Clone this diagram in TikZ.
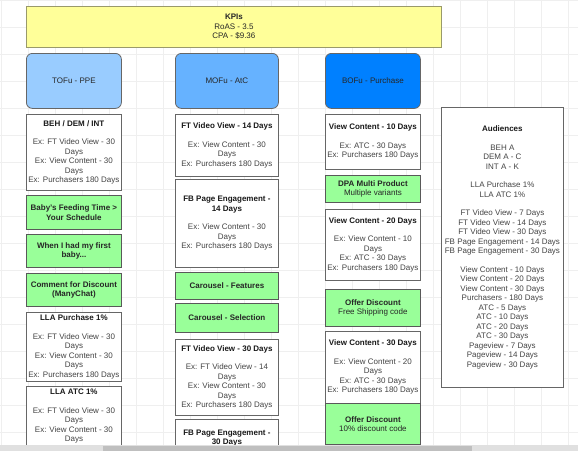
\documentclass[tikz,border=0pt]{standalone}
\usepackage{fontspec}
\setmainfont{Liberation Sans}
\usepackage{tikz}
\definecolor{kpiyellow}{HTML}{FFFF99}
\definecolor{kpiedge}{HTML}{9A9A6A}
\definecolor{tofublue}{HTML}{99CCFF}
\definecolor{mofublue}{HTML}{66B2FF}
\definecolor{bofublue}{HTML}{0080FF}
\definecolor{adgreen}{HTML}{99FF99}
\definecolor{boxgray}{HTML}{666666}
\definecolor{bodygray}{HTML}{444444}
\definecolor{gridgray}{HTML}{EFEFEF}
\newcommand{\boxtitle}[1]{\textcolor{black!90}{\textbf{#1}}}

\begin{document}
\begin{tikzpicture}
		[x=1pt,y=-1pt,
		every node/.style={font=\fontsize{8}{9.5}\selectfont,align=center,inner sep=1pt,line width=0.8pt},
		kpi/.style={draw=kpiedge,fill=kpiyellow,text=black!85,anchor=north west},
		phase/.style={draw=boxgray,rounded corners=6pt,text=black!85,anchor=north west},
		audience/.style={draw=boxgray,fill=white,text=bodygray,anchor=north west},
		ad/.style={draw=black!65,fill=adgreen,text=black!85,anchor=north west,font=\fontsize{8}{9.5}\selectfont\bfseries},
		gridline/.style={draw=gridgray,line width=0.6pt}]
		\useasboundingbox (0,0) rectangle (578,451);
		\fill[white] (0,0) rectangle (578,451);
		\foreach \gx in {1,28,...,578} \draw[gridline] (\gx,0) -- (\gx,451);
		\foreach \gy in {0,27,...,451} \draw[gridline] (0,\gy) -- (578,\gy);
		
		\begin{scope}
		\clip (0,0) rectangle (578,445);
		
		\node[kpi,minimum width=415,minimum height=41] (kpis) at (26,6) {\textbf{KPIs}\\RoAS - 3.5\\CPA - \$9.36};
		
		\node[phase,fill=tofublue,minimum width=95,minimum height=55] (tofu) at (26,53) {TOFu - PPE};
		\node[phase,fill=mofublue,minimum width=103,minimum height=55] (mofu) at (175,53) {MOFu - AtC};
		\node[phase,fill=bofublue,minimum width=95,minimum height=55] (bofu) at (325,53) {BOFu - Purchase};
		
		% TOFu column
		\node[audience,minimum width=95,minimum height=76] (beh) at (26,114) {\boxtitle{BEH / DEM / INT}\\[9pt]Ex: FT Video View - 30\\Days\\Ex: View Content - 30\\Days\\Ex: Purchasers 180 Days};
		\node[ad,minimum width=95,minimum height=34] (feeding) at (26,195) {Baby's Feeding Time >\\Your Schedule};
		\node[ad,minimum width=95,minimum height=33] (firstbaby) at (26,234) {When I had my first\\baby...};
		\node[ad,minimum width=95,minimum height=33] (manychat) at (26,273) {Comment for Discount\\(ManyChat)};
		\node[audience,minimum width=95,minimum height=69] (llapurchase) at (26,312) {\boxtitle{LLA Purchase 1\%}\\[9pt]Ex: FT Video View - 30\\Days\\Ex: View Content - 30\\Days\\Ex: Purchasers 180 Days};
		\node[audience,minimum width=95,minimum height=69] (llaatc) at (26,386) {\boxtitle{LLA ATC 1\%}\\[9pt]Ex: FT Video View - 30\\Days\\Ex: View Content - 30\\Days\\\rule{0pt}{8pt}};
		
		% MOFu column
		\node[audience,minimum width=103,minimum height=62] (ftview14) at (175,114) {\boxtitle{FT Video View - 14 Days}\\[9pt]Ex: View Content - 30\\Days\\Ex: Purchasers 180 Days};
		\node[audience,minimum width=103,minimum height=88] (fbpage14) at (175,179) {\boxtitle{FB Page Engagement -}\\\boxtitle{14 Days}\\[9pt]Ex: View Content - 30\\Days\\Ex: Purchasers 180 Days};
		\node[ad,minimum width=103,minimum height=27] (carfeatures) at (175,272) {Carousel - Features};
		\node[ad,minimum width=103,minimum height=29] (carselection) at (175,303) {Carousel - Selection};
		\node[audience,minimum width=103,minimum height=76] (ftview30) at (175,339) {\boxtitle{FT Video View - 30 Days}\\[9pt]Ex: FT Video View - 14\\Days\\Ex: View Content - 30\\Days\\Ex: Purchasers 180 Days};
		\node[audience,minimum width=103,minimum height=74] (fbpage30) at (175,419) {\boxtitle{FB Page Engagement -}\\\boxtitle{30 Days}\\\rule{0pt}{36pt}};
		
		% BOFu column
		\node[audience,minimum width=95,minimum height=55] (view10) at (325,114) {\boxtitle{View Content - 10 Days}\\[9pt]Ex: ATC - 30 Days\\Ex: Purchasers 180 Days};
		\node[ad,minimum width=95,minimum height=27] (dpa) at (325,175) {DPA Multi Product\\\mdseries Multiple variants};
		\node[audience,minimum width=95,minimum height=71] (view20) at (325,209) {\boxtitle{View Content - 20 Days}\\[9pt]Ex: View Content - 10\\Days\\Ex: ATC - 30 Days\\Ex: Purchasers 180 Days};
		\node[ad,minimum width=95,minimum height=37] (shipping) at (325,289) {Offer Discount\\\mdseries Free Shipping code};
		\node[audience,minimum width=95,minimum height=72] (view30) at (325,331) {\boxtitle{View Content - 30 Days}\\[9pt]Ex: View Content - 20\\Days\\Ex: ATC - 30 Days\\Ex: Purchasers 180 Days};
		\node[ad,minimum width=95,minimum height=41] (discount) at (325,403) {Offer Discount\\\mdseries 10\% discount code};
		
		% audience list
		\node[audience,minimum width=122,minimum height=280] (audiences) at (441,107) {\boxtitle{Audiences}\\[9pt]BEH A\\DEM A - C\\INT A - K\\[9pt]LLA Purchase 1\%\\LLA ATC 1\%\\[9pt]FT Video View - 7 Days\\FT Video View - 14 Days\\FT Video View - 30 Days\\FB Page Engagement - 14 Days\\FB Page Engagement - 30 Days\\[9pt]View Content - 10 Days\\View Content - 20 Days\\View Content - 30 Days\\Purchasers - 180 Days\\ATC - 5 Days\\ATC - 10 Days\\ATC - 20 Days\\ATC - 30 Days\\Pageview - 7 Days\\Pageview - 14 Days\\Pageview - 30 Days};
		\end{scope}
		
		\fill[black!12] (0,445) rectangle (578,451);
		\fill[black!25] (103,446) rectangle (472,451);
		
		\end{tikzpicture}
\end{document}
